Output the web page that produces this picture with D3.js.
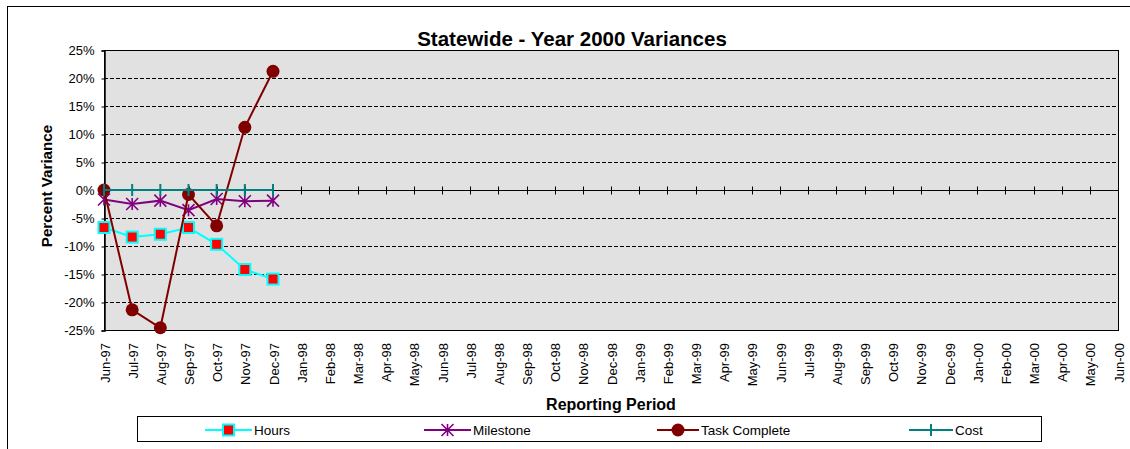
<!DOCTYPE html>
<html>
<head>
<meta charset="utf-8">
<script src="https://cdn.jsdelivr.net/npm/d3@7"></script>
<style>
  html, body { margin: 0; padding: 0; background: #fff; }
  svg { display: block; font-family: Arial, "Liberation Sans", sans-serif; }
</style>
</head>
<body>
<svg id="chart" width="1130" height="449"></svg>
<script>
// Reporting periods (monthly, Jun-97 .. Jun-00)
const periods = ["Jun-97","Jul-97","Aug-97","Sep-97","Oct-97","Nov-97","Dec-97",
  "Jan-98","Feb-98","Mar-98","Apr-98","May-98","Jun-98","Jul-98","Aug-98","Sep-98",
  "Oct-98","Nov-98","Dec-98","Jan-99","Feb-99","Mar-99","Apr-99","May-99","Jun-99",
  "Jul-99","Aug-99","Sep-99","Oct-99","Nov-99","Dec-99","Jan-00","Feb-00","Mar-00",
  "Apr-00","May-00","Jun-00"];

// Variance series (percent), reported Jun-97 .. Dec-97
const hours        = [-6.7, -8.4, -7.9, -6.7, -9.7, -14.2, -15.9];
const milestone    = [-1.7, -2.5, -1.9, -3.6, -1.6, -2.0, -1.9];
const taskComplete = [0.0, -21.4, -24.6, -0.8, -6.4, 11.2, 21.2];
const cost         = [0, 0, 0, 0, 0, 0, 0];

const yTicks = [25, 20, 15, 10, 5, 0, -5, -10, -15, -20, -25];

const FONT = "Arial, 'Liberation Sans', sans-serif";
const svg = d3.select("#chart");

// Outer chart frame
svg.append("rect").attr("x", 7.5).attr("y", 6.5).attr("width", 1140).attr("height", 460)
  .attr("fill", "#fff").attr("stroke", "#000").attr("stroke-width", 1);

const plot = { left: 104, right: 1118, top: 50, bottom: 330 };

const x = d3.scalePoint().domain(periods).range([plot.left, plot.right]);
const y = d3.scaleLinear().domain([-25, 25]).range([plot.bottom, plot.top]);

// Plot area background
svg.append("rect")
  .attr("x", plot.left).attr("y", plot.top)
  .attr("width", plot.right - plot.left).attr("height", plot.bottom - plot.top)
  .attr("fill", "#e1e1e1");

// Dashed gridlines
svg.append("g").selectAll("line")
  .data(yTicks.filter(d => d !== 0 && d !== 25))
  .join("line")
  .attr("x1", plot.left).attr("x2", plot.right)
  .attr("y1", d => Math.round(y(d)) + 0.5).attr("y2", d => Math.round(y(d)) + 0.5)
  .attr("stroke", "#000").attr("stroke-width", 1)
  .attr("stroke-dasharray", "4,2");

// Plot area border
svg.append("rect")
  .attr("x", plot.left + 0.5).attr("y", plot.top + 0.5)
  .attr("width", plot.right - plot.left).attr("height", plot.bottom - plot.top)
  .attr("fill", "none").attr("stroke", "#000").attr("stroke-width", 1);

// Y axis
const yAxis = d3.axisLeft(y).tickValues(yTicks).tickSize(3).tickPadding(7)
  .tickFormat(d => d + "%");
const gy = svg.append("g").attr("transform", `translate(${plot.left + 0.5},0.5)`).call(yAxis);
gy.select(".domain").attr("stroke", "#000").attr("stroke-width", 1.5);
gy.selectAll("text").attr("font-size", 13).attr("fill", "#000").attr("font-family", FONT);

// Zero line with crossing ticks
const zeroY = Math.round(y(0)) + 0.5;
svg.append("line").attr("x1", plot.left).attr("x2", plot.right)
  .attr("y1", zeroY).attr("y2", zeroY).attr("stroke", "#000").attr("stroke-width", 1.2);
svg.append("g").selectAll("line").data(periods).join("line")
  .attr("x1", d => Math.round(x(d)) + 0.5).attr("x2", d => Math.round(x(d)) + 0.5)
  .attr("y1", zeroY - 4).attr("y2", zeroY + 4)
  .attr("stroke", "#000").attr("stroke-width", 1);

// X axis labels (below plot, rotated)
const xAxis = d3.axisBottom(x).tickSize(0).tickPadding(0);
const gx = svg.append("g").attr("transform", `translate(0,${plot.bottom})`).call(xAxis);
gx.select(".domain").remove();
gx.selectAll("text")
  .attr("font-size", 13).attr("fill", "#000").attr("font-family", FONT)
  .attr("text-anchor", "end")
  .attr("dy", null)
  .attr("transform", "translate(5,13) rotate(-90)");

// Axis titles and chart title
svg.append("text").attr("x", 572).attr("y", 46).attr("text-anchor", "middle")
  .attr("font-size", 20.5).attr("font-weight", "bold").text("Statewide - Year 2000 Variances");
svg.append("text").attr("transform", "translate(52,186) rotate(-90)").attr("text-anchor", "middle")
  .attr("font-size", 15.2).attr("font-weight", "bold").text("Percent Variance");
svg.append("text").attr("x", 611).attr("y", 410).attr("text-anchor", "middle")
  .attr("font-size", 16).attr("font-weight", "bold").text("Reporting Period");

// Series definitions
const series = [
  { name: "Hours", values: hours, color: "#00ffff", marker: "square" },
  { name: "Milestone", values: milestone, color: "#800080", marker: "star" },
  { name: "Task Complete", values: taskComplete, color: "#800000", marker: "circle" },
  { name: "Cost", values: cost, color: "#008080", marker: "bar" }
];

function drawMarker(g, type, cx, cy, color) {
  if (type === "square") {
    g.append("rect").attr("x", cx - 5.5).attr("y", cy - 5.5).attr("width", 11).attr("height", 11)
      .attr("fill", "#ff0000").attr("stroke", "#00ffff").attr("stroke-width", 2);
  } else if (type === "circle") {
    g.append("circle").attr("cx", cx).attr("cy", cy).attr("r", 6.5).attr("fill", color);
  } else if (type === "star") {
    const r = 6;
    const p = `M${cx - r},${cy - r}L${cx + r},${cy + r}M${cx + r},${cy - r}L${cx - r},${cy + r}M${cx},${cy - r}L${cx},${cy + r}`;
    g.append("path").attr("d", p).attr("stroke", color).attr("stroke-width", 1.6).attr("fill", "none");
  } else if (type === "bar") {
    g.append("line").attr("x1", cx).attr("x2", cx).attr("y1", cy - 6).attr("y2", cy + 6)
      .attr("stroke", color).attr("stroke-width", 2);
  }
}

const line = d3.line().x((d, i) => x(periods[i])).y(d => y(d));

// Draw order: Hours, Milestone, Task Complete, Cost
series.forEach(s => {
  const g = svg.append("g");
  g.append("path").datum(s.values).attr("d", line)
    .attr("fill", "none").attr("stroke", s.color).attr("stroke-width", 2);
  s.values.forEach((v, i) => drawMarker(g, s.marker, x(periods[i]), y(v), s.color));
});

// Legend
svg.append("rect").attr("x", 137.5).attr("y", 416.5).attr("width", 904).attr("height", 25)
  .attr("fill", "#fff").attr("stroke", "#000").attr("stroke-width", 1);
const legendItems = [
  { s: series[0], x1: 205, x2: 252 },
  { s: series[1], x1: 424, x2: 471 },
  { s: series[2], x1: 657, x2: 699 },
  { s: series[3], x1: 909, x2: 953 }
];
legendItems.forEach(it => {
  const g = svg.append("g");
  const ly = 430;
  g.append("line").attr("x1", it.x1).attr("x2", it.x2).attr("y1", ly).attr("y2", ly)
    .attr("stroke", it.s.color).attr("stroke-width", 2);
  drawMarker(g, it.s.marker, (it.x1 + it.x2) / 2, ly, it.s.color);
  g.append("text").attr("x", it.x2 + 2).attr("y", ly + 5).attr("font-size", 13.5)
    .attr("fill", "#000").text(it.s.name);
});
</script>
</body>
</html>
